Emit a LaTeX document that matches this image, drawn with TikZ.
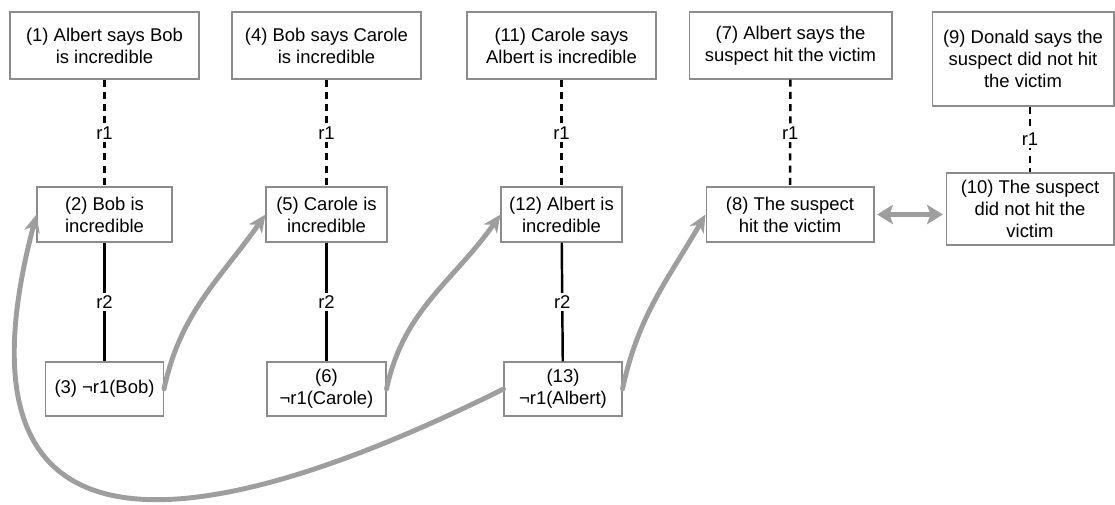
\documentclass[tikz,border=0pt]{standalone}
\usepackage{fontspec}
\setmainfont{Liberation Sans}
\usetikzlibrary{arrows.meta}
\definecolor{boxgray}{RGB}{140,140,140}
\definecolor{arrowgray}{RGB}{158,158,158}
\tikzset{
  claim/.style={draw=boxgray, line width=0.6pt, align=center, inner sep=0pt, font=\fontsize{10.5}{12.5}\selectfont},
  rline/.style={line width=1.4pt},
  rdashed/.style={rline, dash pattern=on 4pt off 3pt},
  rlabel/.style={fill=white, inner sep=1.5pt, font=\fontsize{10.5}{12.5}\selectfont},
  support/.style={line width=2.8pt, arrowgray, line cap=round, -{Stealth[length=10pt,width=9pt,inset=3pt]}},
  conflict/.style={line width=3.2pt, arrowgray, shorten <=1.5pt, shorten >=1.5pt,
    {Stealth[length=9pt,width=11pt,inset=2pt]}-{Stealth[length=9pt,width=11pt,inset=2pt]}}
}
\begin{document}
\begin{tikzpicture}[x=0.02cm, y=-0.02cm]
\useasboundingbox (0,0) rectangle (1115,504);
% testimony
\node[claim, minimum width=3.78cm, minimum height=1.34cm] (n1) at (104.5,45.5) {(1) Albert says Bob\\is incredible};
\node[claim, minimum width=3.78cm, minimum height=1.34cm] (n4) at (326.5,45.5) {(4) Bob says Carole\\is incredible};
\node[claim, minimum width=3.78cm, minimum height=1.34cm] (n11) at (561.5,45.5) {(11) Carole says\\Albert is incredible};
\node[claim, minimum width=4.06cm, minimum height=1.34cm] (n7) at (790.5,45.5) {(7) Albert says the\\suspect hit the victim};
\node[claim, minimum width=3.64cm, minimum height=1.88cm] (n9) at (1023,59) {(9) Donald says the\\suspect did not hit\\the victim};
% conclusions
\node[claim, minimum width=2.7cm, minimum height=1.1cm] (n2) at (104.5,214.5) {(2) Bob is\\incredible};
\node[claim, minimum width=2.42cm, minimum height=1.1cm] (n5) at (326.5,214.5) {(5) Carole is\\incredible};
\node[claim, minimum width=2.42cm, minimum height=1.1cm] (n12) at (561.5,214.5) {(12) Albert is\\incredible};
\node[claim, minimum width=3.36cm, minimum height=1.1cm] (n8) at (790,214.5) {(8) The suspect\\hit the victim};
\node[claim, minimum width=3.36cm, minimum height=1.44cm] (n10) at (1030,209) {(10) The suspect\\did not hit the\\victim};
% exceptions
\node[claim, minimum width=2.36cm, minimum height=1.08cm] (n3) at (104.5,389) {(3) ¬r1(Bob)};
\node[claim, minimum width=2.38cm, minimum height=1.08cm] (n6) at (326.5,389) {(6)\\¬r1(Carole)};
\node[claim, minimum width=2.36cm, minimum height=1.08cm] (n13) at (563,389) {(13)\\¬r1(Albert)};

% r1 rules
\draw[rdashed] (n1) -- node[rlabel] {r1} (n2);
\draw[rdashed] (n4) -- node[rlabel] {r1} (n5);
\draw[rdashed] (n11) -- node[rlabel] {r1} (n12);
\draw[rdashed] (n7) -- node[rlabel] {r1} (n8);
\draw[rdashed] (n10.north |- n9.south) -- node[rlabel] {r1} (n10.north);
% r2 rules
\draw[rline] (n2) -- node[rlabel] {r2} (n3);
\draw[rline] (n5) -- node[rlabel] {r2} (n6);
\draw[rline] (n12) -- node[rlabel] {r2} (n13);

% support arrows
\draw[support] (n3.east) to[out=78, in=235] (n5.west);
\draw[support] (n6.east) to[out=78, in=235] (n12.west);
\draw[support] (n13.east) to[out=78, in=240] (n8.west);
\draw[support] (n13.west) .. controls (200,540) and (-60,580) .. (n2.west);
\draw[conflict] (n8.east) -- (n8.east -| n10.west);
\end{tikzpicture}
\end{document}
